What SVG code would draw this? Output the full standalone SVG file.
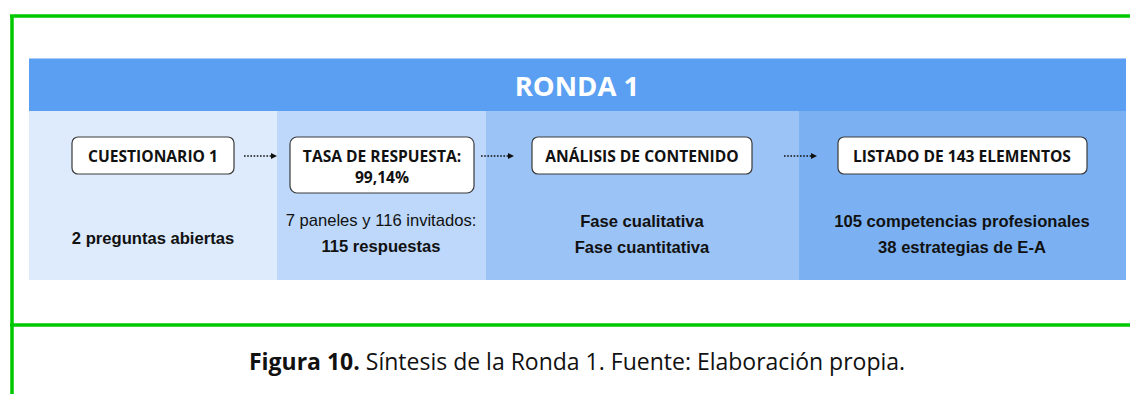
<svg xmlns="http://www.w3.org/2000/svg" width="1130" height="394" viewBox="0 0 1130 394">
<style>
.box{fill:#ffffff;stroke:#3a3a3a;stroke-width:1.2}
.bt{font-family:"Open Sans","Liberation Sans",sans-serif;font-weight:700;font-size:15.6px;fill:#111;text-anchor:middle}
.lt{font-family:"Liberation Sans",Arial,sans-serif;font-size:16.6px;fill:#111;text-anchor:middle}
.b{font-weight:700}
.con{stroke:#111;stroke-width:1.6;stroke-dasharray:1.6 1.6;fill:none}
.green{stroke:#00c800;stroke-width:3.5;fill:none}
</style>
<defs>
<marker id="ah" viewBox="0 0 6 6" refX="5" refY="3" markerWidth="6" markerHeight="6" markerUnits="userSpaceOnUse" orient="auto">
<path d="M0,0 L6,3 L0,6 z" fill="#111"/>
</marker>
</defs>
<rect width="1130" height="394" fill="#ffffff"/>
<g id="frame">
<line class="green" x1="10" y1="16" x2="1130" y2="16"/>
<line class="green" x1="12" y1="16" x2="12" y2="394"/>
<line class="green" x1="10" y1="325" x2="1130" y2="325"/>
</g>
<g id="bands">
<rect x="29" y="111" width="248" height="169" fill="#DDEBFC"/>
<rect x="277" y="111" width="209" height="169" fill="#BDD8FB"/>
<rect x="486" y="111" width="313" height="169" fill="#9CC3F5"/>
<rect x="799" y="111" width="327" height="169" fill="#7BB1F3"/>
</g>
<g id="header">
<rect x="29" y="58" width="1097" height="53" fill="#5A9FF2"/>
<line x1="29" y1="58.5" x2="1126" y2="58.5" stroke="#A9CBF5" stroke-width="1"/>
<text x="577" y="96" font-family="'Open Sans','Liberation Sans',sans-serif" font-weight="700" font-size="27.5" fill="#ffffff" text-anchor="middle">RONDA 1</text>
</g>
<g id="connectors">
<line class="con" x1="244" y1="156" x2="276" y2="156" marker-end="url(#ah)"/>
<line class="con" x1="481" y1="156" x2="513" y2="156" marker-end="url(#ah)"/>
<line class="con" x1="784" y1="156" x2="816" y2="156" marker-end="url(#ah)"/>
</g>
<g id="n1">
<rect class="box" x="72" y="137" width="162" height="37" rx="6"/>
<text class="bt" x="153" y="161.5">CUESTIONARIO 1</text>
<text class="lt b" x="153" y="244">2 preguntas abiertas</text>
</g>
<g id="n2">
<rect class="box" x="290" y="137" width="184" height="56" rx="7"/>
<text class="bt" x="382" y="161.5">TASA DE RESPUESTA:</text>
<text class="bt" x="382" y="182.5">99,14%</text>
<text class="lt" x="381" y="226">7 paneles y 116 invitados:</text>
<text class="lt b" x="381" y="252">115 respuestas</text>
</g>
<g id="n3">
<rect class="box" x="532" y="137" width="220" height="37" rx="6"/>
<text class="bt" x="642" y="161.5">ANÁLISIS DE CONTENIDO</text>
<text class="lt b" x="642" y="227">Fase cualitativa</text>
<text class="lt b" x="642" y="253">Fase cuantitativa</text>
</g>
<g id="n4">
<rect class="box" x="838" y="137" width="249" height="37" rx="6"/>
<text class="bt" x="962" y="161.5">LISTADO DE 143 ELEMENTOS</text>
<text class="lt b" x="962" y="227">105 competencias profesionales</text>
<text class="lt b" x="962" y="253">38 estrategias de E-A</text>
</g>
<g id="caption">
<text x="577" y="370" font-family="'Open Sans','Liberation Sans',sans-serif" font-size="23" fill="#111" text-anchor="middle"><tspan font-weight="700">Figura 10.</tspan> Síntesis de la Ronda 1. Fuente: Elaboración propia.</text>
</g>
</svg>
